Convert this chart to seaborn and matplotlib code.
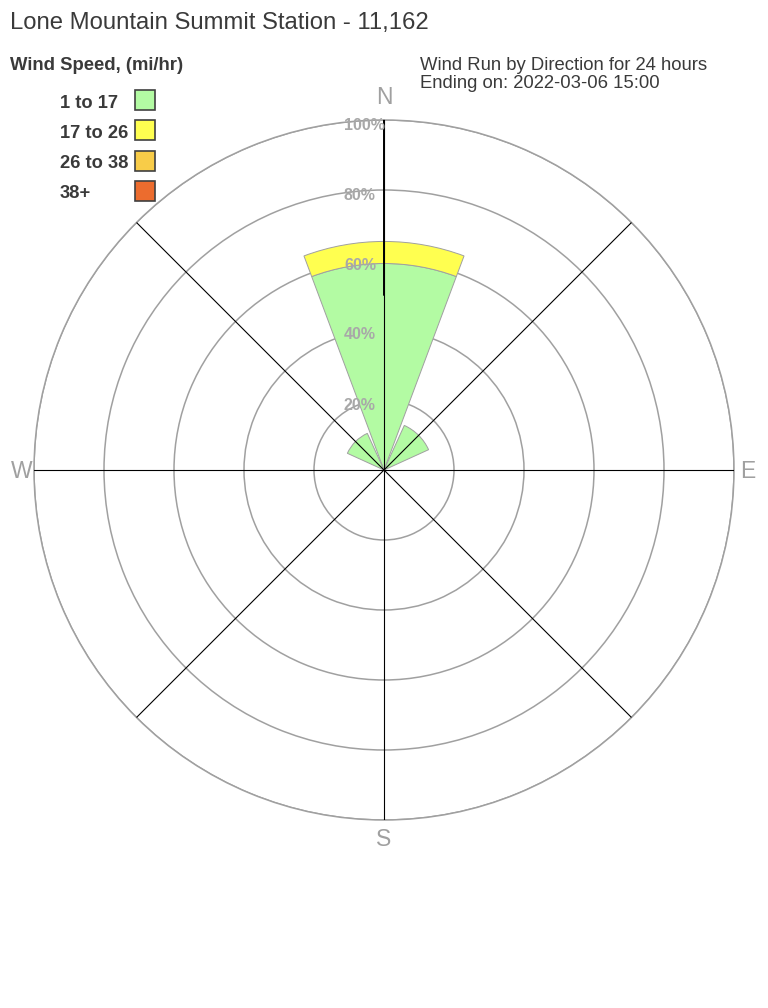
import numpy as np
import matplotlib
matplotlib.use("Agg")
import matplotlib.pyplot as plt
import seaborn as sns
from matplotlib.patches import Rectangle

sns.set_style("white")
plt.rcParams['font.family'] = ['Liberation Sans', 'DejaVu Sans']

# ---- data ----
directions = ["N", "NE", "E", "SE", "S", "SW", "W", "NW"]
angles_deg = [0, 45, 90, 135, 180, 225, 270, 315]
speed_bins = ["1 to 17", "17 to 26", "26 to 38", "38+"]
bin_colors = ["#b3fba3", "#ffff50", "#f8cc48", "#ec6c2e"]
pct_1_17 = [59.0, 14.0, 0, 0, 0, 0, 0, 11.5]
pct_17_26 = [6.3, 0, 0, 0, 0, 0, 0, 0]
pct_26_38 = [0, 0, 0, 0, 0, 0, 0, 0]
pct_38p = [0, 0, 0, 0, 0, 0, 0, 0]
ring_ticks = [20, 40, 60, 80, 100]
ring_labels = ["20%", "40%", "60%", "80%", "100%"]

title = "Lone Mountain Summit Station - 11,162"
subtitle1 = "Wind Run by Direction for 24 hours"
subtitle2 = "Ending on: 2022-03-06 15:00"

W, H = 768, 1008
fig = plt.figure(figsize=(W / 100, H / 100), dpi=100)
fig.patch.set_facecolor("white")

cx, cy, R = 384, 470, 350
ax = fig.add_axes([(cx - R) / W, (H - cy - R) / H, 2 * R / W, 2 * R / H], projection="polar")
ax.set_theta_zero_location("N")
ax.set_theta_direction(-1)
ax.set_ylim(0, 100)
ax.set_facecolor("none")

# rings
ax.set_yticks(ring_ticks)
ax.set_yticklabels([])
ax.set_xticks([])
ax.yaxis.grid(True, color="#a0a0a0", lw=1.1)
ax.xaxis.grid(False)
ax.spines["polar"].set_color("#a0a0a0")
ax.spines["polar"].set_linewidth(1.1)
ax.set_axisbelow(True)

theta = np.deg2rad(angles_deg)
width = np.deg2rad(41)
bottom = np.zeros(len(directions))
for vals, col in zip([pct_1_17, pct_17_26, pct_26_38, pct_38p], bin_colors):
    vals = np.array(vals)
    mask = vals > 0
    ax.bar(theta[mask], vals[mask], width=width, bottom=bottom[mask], color=col,
           edgecolor="#a0a0a0", linewidth=0.7, zorder=2)
    bottom = bottom + vals

# radial lines
for a in theta:
    ax.plot([a, a], [0, 100], color="black", lw=0.8, zorder=3)
ax.plot([0, 0], [50, 100], color="black", lw=1.4, zorder=3)

# ring labels
for r, lab in zip(ring_ticks, ring_labels):
    ypx = cy - R * r / 100 + 5
    fig.text(344 / W, 1 - ypx / H, lab, ha="left", va="center",
             color="#a8a8a8", fontsize=11.5, fontweight="bold", zorder=5)

# compass labels
for lab, (x, y) in zip(["N", "E", "S", "W"], [(384, 97), (748, 471), (384, 839), (22, 471)]):
    fig.text(x / W, 1 - y / H, lab, ha="center", va="center", color="#a0a0a0", fontsize=16.5)

txt = "#3a3a3a"
fig.text(10 / W, 1 - 23 / H, title, ha="left", va="center", color=txt, fontsize=17.2)
fig.text(10 / W, 1 - 66 / H, "Wind Speed, (mi/hr)", ha="left", va="center", color=txt,
         fontsize=13.3, fontweight="bold")
fig.text(420 / W, 1 - 65 / H, subtitle1, ha="left", va="center", color=txt, fontsize=13.3)
fig.text(420 / W, 1 - 84 / H, subtitle2, ha="left", va="center", color=txt, fontsize=13.3)

for i, (lab, col) in enumerate(zip(speed_bins, bin_colors)):
    yc = 100 + 30.3 * i
    fig.text(60 / W, 1 - (yc + 3) / H, lab, ha="left", va="center", color=txt,
             fontsize=13.2, fontweight="bold")
    fig.patches.append(Rectangle((135 / W, 1 - (yc + 10) / H), 20 / W, 20 / H,
                                 transform=fig.transFigure, facecolor=col,
                                 edgecolor="#404040", lw=1.2))

fig.savefig("out.png", dpi=100, facecolor="white")
